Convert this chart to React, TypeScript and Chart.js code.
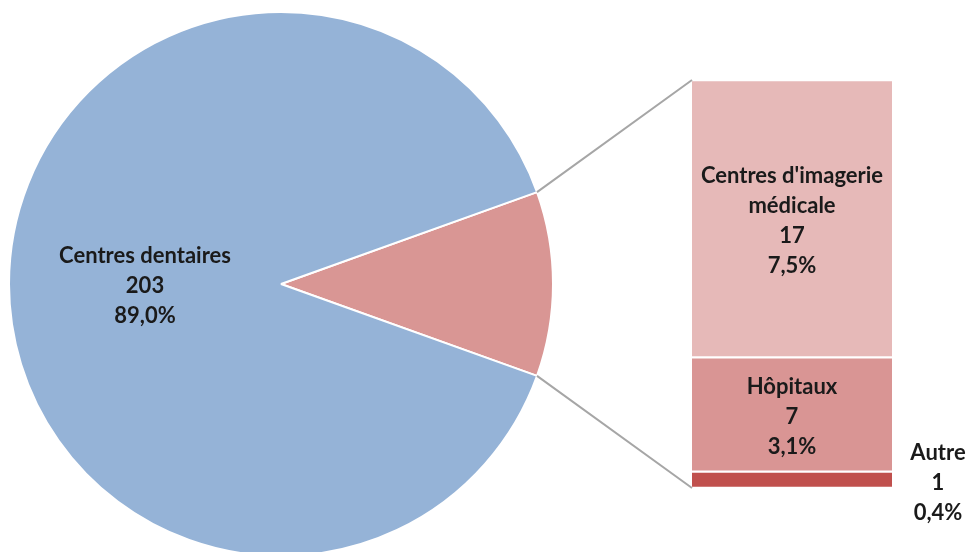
import React, { useEffect, useRef } from "react";
import { Chart, registerables } from "chart.js";

Chart.register(...registerables);

const pieLabels = ["Autres établissements", "Centres dentaires"];
const pieValues = [25, 203];
const piePercents = ["11,0%", "89,0%"];
const pieColors = ["#D99694", "#95B3D7"];

const barLabels = ["Autre", "Hôpitaux", "Centres d'imagerie\nmédicale"];
const barValues = [1, 7, 17];
const barPercents = ["0,4%", "3,1%", "7,5%"];
const barColors = ["#C0504D", "#D99594", "#E6B9B8"];

const FONT = "bold 22px Lato, 'Open Sans', sans-serif";
const TEXT = "#1a1a1a";
const LINE_H = 30;

function drawLines(ctx: CanvasRenderingContext2D, lines: string[], x: number, cy: number) {
  ctx.save();
  ctx.font = FONT;
  ctx.fillStyle = TEXT;
  ctx.textAlign = "center";
  ctx.textBaseline = "middle";
  const start = cy - ((lines.length - 1) * LINE_H) / 2;
  lines.forEach((l, i) => ctx.fillText(l, x, start + i * LINE_H));
  ctx.restore();
}

export default function App() {
  const pieRef = useRef<HTMLCanvasElement>(null);
  const barRef = useRef<HTMLCanvasElement>(null);

  useEffect(() => {
    const total = pieValues.reduce((a, b) => a + b, 0);
    const redDeg = (pieValues[0] / total) * 360;

    const pieLabelPlugin = {
      id: "pieLabels",
      afterDatasetsDraw(chart: any) {
        const meta = chart.getDatasetMeta(0);
        const el = meta.data[1];
        const p = el.tooltipPosition();
        drawLines(chart.ctx, [pieLabels[1], String(pieValues[1]), piePercents[1]], p.x, p.y + 2);
      },
    };

    const pie = new Chart(pieRef.current!, {
      type: "pie",
      data: {
        labels: pieLabels,
        datasets: [
          {
            data: pieValues,
            backgroundColor: pieColors,
            borderColor: "#ffffff",
            borderWidth: 2,
          },
        ],
      },
      options: {
        animation: false,
        responsive: false,
        rotation: 90 - redDeg / 2,
        radius: 272,
        layout: { padding: { left: 9, right: 417, top: 16, bottom: 0 } },
        plugins: { legend: { display: false }, tooltip: { enabled: false } },
      } as any,
      plugins: [pieLabelPlugin],
    });

    const barPlugin = {
      id: "barExtras",
      afterDatasetsDraw(chart: any) {
        const ctx = chart.ctx as CanvasRenderingContext2D;
        const arc = pie.getDatasetMeta(0).data[0] as any;
        const topEl = chart.getDatasetMeta(2).data[0] as any;
        const botEl = chart.getDatasetMeta(0).data[0] as any;
        const left = topEl.x - topEl.width / 2;
        ctx.save();
        ctx.strokeStyle = "#A6A6A6";
        ctx.lineWidth = 2;
        ctx.beginPath();
        ctx.moveTo(arc.x + arc.outerRadius * Math.cos(arc.startAngle), arc.y + arc.outerRadius * Math.sin(arc.startAngle));
        ctx.lineTo(left, topEl.y);
        ctx.moveTo(arc.x + arc.outerRadius * Math.cos(arc.endAngle), arc.y + arc.outerRadius * Math.sin(arc.endAngle));
        ctx.lineTo(left, botEl.base);
        ctx.stroke();
        ctx.restore();
        barValues.forEach((v, i) => {
          const el = chart.getDatasetMeta(i).data[0] as any;
          const cy = (el.y + el.base) / 2;
          const lines = [...barLabels[i].split("\n"), String(v), barPercents[i]];
          if (i === 0) {
            drawLines(ctx, lines, el.x + el.width / 2 + 46, cy + 3);
          } else {
            drawLines(ctx, lines, el.x, cy + 2);
          }
        });
      },
    };

    const bar = new Chart(barRef.current!, {
      type: "bar",
      data: {
        labels: [""],
        datasets: barValues.map((v, i) => ({
          label: barLabels[i],
          data: [v],
          backgroundColor: barColors[i],
          borderColor: "#ffffff",
          borderWidth: { top: 1.5, bottom: 1.5, left: 0, right: 0 },
          borderSkipped: false,
          barPercentage: 1,
          categoryPercentage: 1,
        })),
      },
      options: {
        animation: false,
        responsive: false,
        layout: { padding: { left: 692, right: 78, top: 80, bottom: 64 } },
        scales: {
          x: { display: false, stacked: true },
          y: { display: false, stacked: true, min: 0, max: 25 },
        },
        plugins: { legend: { display: false }, tooltip: { enabled: false } },
      } as any,
      plugins: [barPlugin],
    });

    return () => {
      bar.destroy();
      pie.destroy();
    };
  }, []);

  const style: React.CSSProperties = { position: "absolute", left: 0, top: 0 };
  return (
    <div style={{ position: "fixed", left: 0, top: 0, width: 970, height: 552, background: "#ffffff", overflow: "hidden" }}>
      <canvas ref={pieRef} width={970} height={552} style={style} />
      <canvas ref={barRef} width={970} height={552} style={style} />
    </div>
  );
}
